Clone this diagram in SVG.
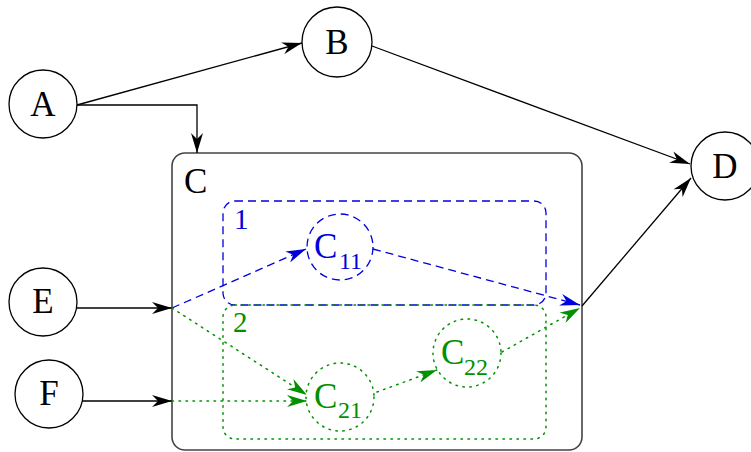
<svg xmlns="http://www.w3.org/2000/svg" width="751" height="452" viewBox="0 0 751 452">
<style>
.n{fill:#fff;stroke:#000;stroke-width:1.3}
.t{font-family:"Liberation Serif",serif;font-size:35px;fill:#000}
.s{font-family:"Liberation Serif",serif;font-size:24px}
.k{fill:none;stroke:#000;stroke-width:1.3}
.b{fill:none;stroke:#0000dd;stroke-width:1.3;stroke-dasharray:8 5}
.g{fill:none;stroke:#009000;stroke-width:1.5;stroke-dasharray:1.5 5.5;stroke-linecap:round}
</style>
<defs>
<marker id="ak" markerUnits="userSpaceOnUse" markerWidth="20" markerHeight="12" refX="20" refY="6" orient="auto"><path d="M0,0 L20,6 L0,12 L6,6 Z" fill="#000"/></marker>
<marker id="ab" markerUnits="userSpaceOnUse" markerWidth="20" markerHeight="12" refX="20" refY="6" orient="auto"><path d="M0,0 L20,6 L0,12 L6,6 Z" fill="#0000dd"/></marker>
<marker id="ag" markerUnits="userSpaceOnUse" markerWidth="20" markerHeight="12" refX="20" refY="6" orient="auto"><path d="M0,0 L20,6 L0,12 L6,6 Z" fill="#009000"/></marker>
</defs>
<g id="C">
<rect x="172" y="153" width="410" height="297" rx="13" fill="none" stroke="#444" stroke-width="1.6"/>
<text class="t" x="184" y="193">C</text>
</g>
<g id="group1">
<rect x="223" y="201" width="323" height="104" rx="12" class="b"/>
<text class="t" x="234" y="229" style="font-size:29px;fill:#0000dd">1</text>
</g>
<g id="group2">
<rect x="223" y="305" width="323" height="134" rx="12" class="g"/>
<text class="t" x="233" y="332" style="font-size:29px;fill:#009000">2</text>
</g>
<g id="connectors">
<line class="k" x1="77" y1="105" x2="302" y2="43" marker-end="url(#ak)"/>
<polyline class="k" points="77,105 197,105 197,153" marker-end="url(#ak)"/>
<line class="k" x1="372" y1="46" x2="690" y2="164" marker-end="url(#ak)"/>
<line class="k" x1="77" y1="308" x2="172" y2="308" marker-end="url(#ak)"/>
<line class="k" x1="82" y1="401" x2="172" y2="401" marker-end="url(#ak)"/>
<line class="k" x1="582" y1="306" x2="691" y2="178" marker-end="url(#ak)"/>
<line class="b" x1="172" y1="308" x2="306" y2="249" marker-end="url(#ab)"/>
<line class="b" x1="373" y1="249" x2="580" y2="305" marker-end="url(#ab)"/>
<line class="g" x1="172" y1="308" x2="307" y2="395" marker-end="url(#ag)"/>
<line class="g" x1="172" y1="401" x2="307" y2="401" marker-end="url(#ag)"/>
<line class="g" x1="377" y1="392" x2="437" y2="370" marker-end="url(#ag)"/>
<line class="g" x1="502" y1="352" x2="580" y2="308" marker-end="url(#ag)"/>
</g>
<g id="A"><circle class="n" cx="43" cy="104" r="34"/><text class="t" x="43" y="116" text-anchor="middle">A</text></g>
<g id="B"><circle class="n" cx="337" cy="42" r="35"/><text class="t" x="337" y="54" text-anchor="middle">B</text></g>
<g id="D"><circle class="n" cx="725" cy="166" r="34"/><text class="t" x="725" y="178" text-anchor="middle">D</text></g>
<g id="E"><circle class="n" cx="43" cy="302" r="34"/><text class="t" x="43" y="313" text-anchor="middle">E</text></g>
<g id="F"><circle class="n" cx="49" cy="394" r="34"/><text class="t" x="49" y="405" text-anchor="middle">F</text></g>
<g id="C11"><circle cx="340" cy="247" r="33" class="b" style="fill:#fff"/><text class="t" x="314" y="258" style="fill:#0000dd">C<tspan class="s" x="339" y="269">11</tspan></text></g>
<g id="C21"><circle cx="340" cy="397" r="34" class="g" style="fill:#fff"/><text class="t" x="314" y="408" style="fill:#009000">C<tspan class="s" x="338" y="418">21</tspan></text></g>
<g id="C22"><circle cx="467" cy="353" r="34" class="g" style="fill:#fff"/><text class="t" x="441" y="364" style="fill:#009000">C<tspan class="s" x="464" y="375">22</tspan></text></g>
</svg>
